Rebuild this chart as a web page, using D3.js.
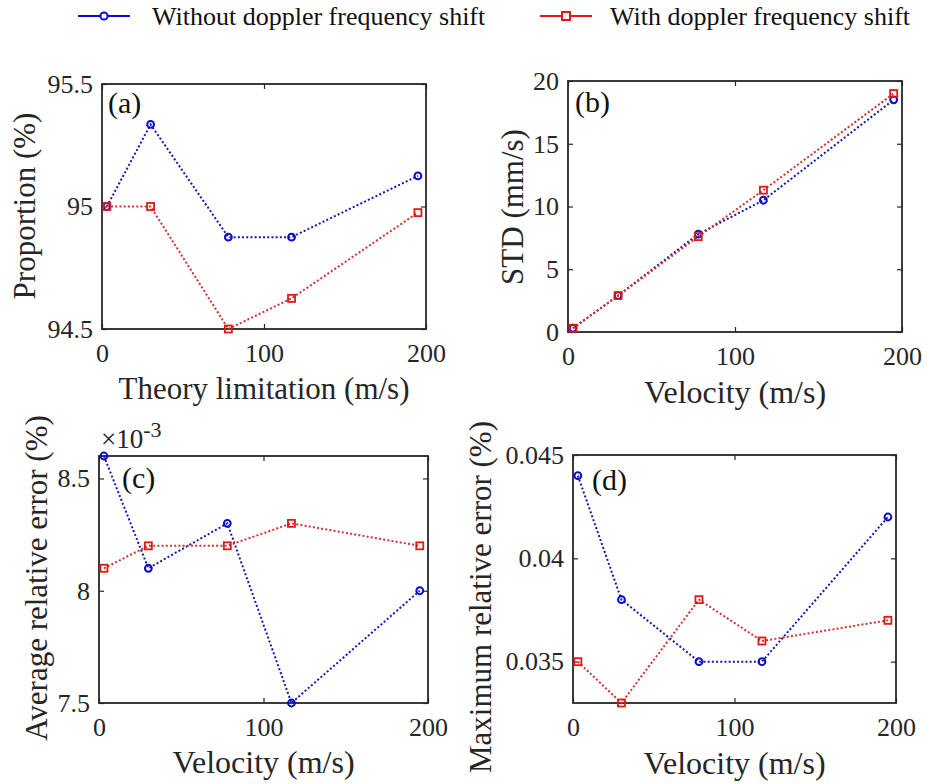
<!DOCTYPE html>
<html>
<head>
<meta charset="utf-8">
<script src="https://cdn.jsdelivr.net/npm/d3@7"></script>
<style>
  html, body { margin: 0; padding: 0; background: #fff; }
  svg { display: block; }
  svg text { font-family: "Liberation Serif", "Times New Roman", "DejaVu Serif", serif; }
  .tick line { stroke: #262626; stroke-width: 1.2; }
  .tick text { fill: #262626; }
</style>
</head>
<body>
<svg id="chart" width="928" height="784"></svg>
<script>
// --- data ---
const velocity = [3, 30, 78, 117, 195];

const proportionWithout = [95.0, 95.335, 94.875, 94.875, 95.125];
const proportionWith = [95.0, 95.0, 94.5, 94.625, 94.975];

const stdWithout = [0.3, 2.9, 7.8, 10.5, 18.5];
const stdWith = [0.3, 2.9, 7.6, 11.3, 19.0];

// average relative error, in units of 1e-3 %
const avgErrWithout = [8.6, 8.1, 8.3, 7.5, 8.0];
const avgErrWith = [8.1, 8.2, 8.2, 8.3, 8.2];

const maxErrWithout = [0.044, 0.038, 0.035, 0.035, 0.042];
const maxErrWith = [0.035, 0.033, 0.038, 0.036, 0.037];

const xTicks = [0, 100, 200];
const seriesNames = ["Without doppler frequency shift", "With doppler frequency shift"];

// --- layout ---
const fontStack = "'Liberation Serif', 'Times New Roman', 'DejaVu Serif', serif";
const blue = "#0a0ad0", blueLine = "#1818a8";
const red = "#e01818", redLine = "#d43030";
const axisColor = "#262626";

const panels = [
  { id: "a", box: [102, 426, 84, 329], yDomain: [94.5, 95.5], yTicks: [94.5, 95, 95.5],
    without: proportionWithout, with: proportionWith,
    xTitle: "Theory limitation (m/s)", xTitleY: 399, xTitleSize: 31,
    yTitle: "Proportion (%)", yTitleX: 35, yTitleMid: 206,
    label: [108, 113] },
  { id: "b", box: [568, 902, 81, 332], yDomain: [0, 20], yTicks: [0, 5, 10, 15, 20],
    without: stdWithout, with: stdWith,
    xTitle: "Velocity (m/s)", xTitleY: 403, xTitleSize: 32,
    yTitle: "STD (mm/s)", yTitleX: 523, yTitleMid: 207,
    label: [575, 112] },
  { id: "c", box: [99, 428, 456, 703], yDomain: [7.5, 8.6], yTicks: [7.5, 8, 8.5],
    without: avgErrWithout, with: avgErrWith,
    xTitle: "Velocity (m/s)", xTitleY: 773, xTitleSize: 32,
    yTitle: "Average relative error (%)", yTitleX: 47, yTitleMid: 578,
    label: [122, 488], exponent: true },
  { id: "d", box: [573, 896, 455, 703], yDomain: [0.033, 0.045], yTicks: [0.035, 0.04, 0.045],
    without: maxErrWithout, with: maxErrWith,
    xTitle: "Velocity (m/s)", xTitleY: 774, xTitleSize: 32,
    yTitle: "Maximum relative error (%)", yTitleX: 491, yTitleMid: 597,
    label: [592, 490] }
];

const svg = d3.select("#chart");

function drawSeries(g, x, y, values, color, lineColor, marker) {
  const pts = velocity.map((v, i) => [x(v), y(values[i])]);
  g.append("path")
    .attr("d", d3.line()(pts))
    .attr("fill", "none")
    .attr("stroke", lineColor)
    .attr("stroke-width", 2)
    .attr("stroke-dasharray", "2 2.2");
  if (marker === "circle") {
    g.selectAll(null).data(pts).enter().append("circle")
      .attr("cx", d => d[0]).attr("cy", d => d[1]).attr("r", 3.4)
      .attr("fill", "none").attr("stroke", color).attr("stroke-width", 2);
  } else {
    g.selectAll(null).data(pts).enter().append("rect")
      .attr("x", d => d[0] - 3.5).attr("y", d => d[1] - 3.5)
      .attr("width", 7).attr("height", 7)
      .attr("fill", "none").attr("stroke", color).attr("stroke-width", 1.8);
  }
}

panels.forEach(p => {
  const [x0, x1, y0, y1] = p.box;
  const x = d3.scaleLinear().domain([0, 200]).range([x0, x1]);
  const y = d3.scaleLinear().domain(p.yDomain).range([y1, y0]);
  const g = svg.append("g").attr("class", "panel-" + p.id);

  // axes with inward ticks on all four sides
  g.append("g").attr("transform", `translate(0,${y1})`)
    .call(d3.axisBottom(x).tickValues(xTicks).tickSizeInner(-5).tickSizeOuter(0).tickPadding(15));
  g.append("g").attr("transform", `translate(${x0},0)`)
    .call(d3.axisLeft(y).tickValues(p.yTicks).tickSizeInner(-5).tickSizeOuter(0).tickPadding(9)
      .tickFormat(d => String(d)));
  g.append("g").attr("transform", `translate(0,${y0})`)
    .call(d3.axisTop(x).tickValues(xTicks).tickSizeInner(-5).tickSizeOuter(0).tickFormat(""));
  g.append("g").attr("transform", `translate(${x1},0)`)
    .call(d3.axisRight(y).tickValues(p.yTicks).tickSizeInner(-5).tickSizeOuter(0).tickFormat(""));
  g.selectAll(".domain").remove();
  g.selectAll(".tick text")
    .style("font-family", fontStack)
    .style("font-size", "26px");

  g.append("rect")
    .attr("x", x0).attr("y", y0).attr("width", x1 - x0).attr("height", y1 - y0)
    .attr("fill", "none").attr("stroke", axisColor).attr("stroke-width", 1.8);

  drawSeries(g, x, y, p.without, blue, blueLine, "circle");
  drawSeries(g, x, y, p.with, red, redLine, "square");

  g.append("text")
    .attr("x", (x0 + x1) / 2).attr("y", p.xTitleY)
    .attr("text-anchor", "middle").style("font-family", fontStack)
    .style("font-size", p.xTitleSize + "px")
    .attr("fill", axisColor)
    .text(p.xTitle);
  g.append("text")
    .attr("transform", `translate(${p.yTitleX},${p.yTitleMid}) rotate(-90)`)
    .attr("text-anchor", "middle").style("font-family", fontStack).style("font-size", "31px")
    .attr("fill", axisColor)
    .text(p.yTitle);
  g.append("text")
    .attr("x", p.label[0]).attr("y", p.label[1])
    .style("font-family", fontStack).style("font-size", "30px").attr("fill", "#111")
    .text(`(${p.id})`);

  if (p.exponent) {
    const t = g.append("text").attr("x", x0 + 2).attr("y", y0 - 8)
      .style("font-family", fontStack).style("font-size", "27px").attr("fill", axisColor);
    t.append("tspan").text("\u00d710");
    t.append("tspan").attr("dy", -11).style("font-size", "22px").text("-3");
  }
});

// --- legend ---
const legend = svg.append("g").attr("class", "legend");
const legendItems = [
  { name: seriesNames[0], lx: 78, tx: 152, color: blue, marker: "circle" },
  { name: seriesNames[1], lx: 540, tx: 610, color: red, marker: "square" }
];
legendItems.forEach(d => {
  legend.append("line")
    .attr("x1", d.lx).attr("x2", d.lx + 52).attr("y1", 16).attr("y2", 16)
    .attr("stroke", d.color).attr("stroke-width", 2);
  if (d.marker === "circle") {
    legend.append("circle").attr("cx", d.lx + 26).attr("cy", 16).attr("r", 3.6)
      .attr("fill", "#fff").attr("stroke", d.color).attr("stroke-width", 2);
  } else {
    legend.append("rect").attr("x", d.lx + 22).attr("y", 12).attr("width", 8).attr("height", 8)
      .attr("fill", "#fff").attr("stroke", d.color).attr("stroke-width", 2);
  }
  legend.append("text").attr("x", d.tx).attr("y", 25)
    .style("font-family", fontStack).style("font-size", "26px").attr("fill", "#111")
    .text(d.name);
});
</script>
</body>
</html>
